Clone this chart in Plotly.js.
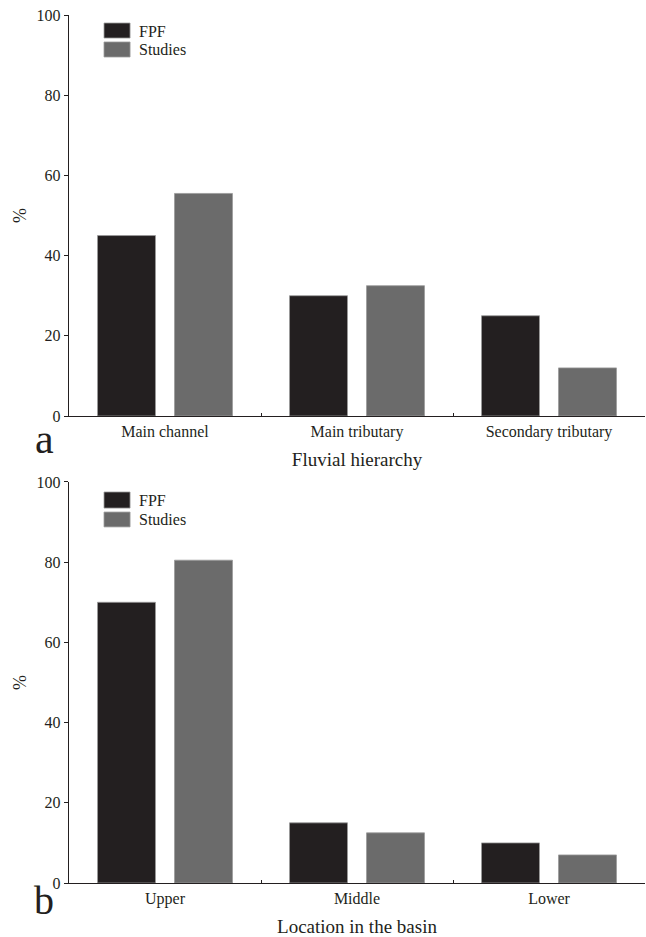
<!DOCTYPE html>
<html>
<head>
<meta charset="utf-8">
<script src="https://cdn.plot.ly/plotly-3.0.1.min.js"></script>
<style>html,body{margin:0;padding:0;background:#fff;}#chart{width:646px;height:937px;}</style>
</head>
<body>
<div id="chart"></div>
<script>
// ---- data ----
var seriesNames = ['FPF', 'Studies'];
var hierarchyCategories = ['Main channel', 'Main tributary', 'Secondary tributary'];
var hierarchyFPF = [45, 30, 25];
var hierarchyStudies = [55.5, 32.5, 12];
var locationCategories = ['Upper', 'Middle', 'Lower'];
var locationFPF = [70, 15, 10];
var locationStudies = [80.5, 12.5, 7];
var yTickValues = [0, 20, 40, 60, 80, 100];
var panelTitles = ['Fluvial hierarchy', 'Location in the basin'];
var panelLetters = ['a', 'b'];
var yTitle = '%';

// ---- styles ----
var colors = ['#231f20', '#6b6b6b'];
var ink = '#231f20';
var fontFam = '"Liberation Serif", "DejaVu Serif", serif';

function barTrace(cats, vals, i, xa, ya) {
  return {
    type: 'bar', x: cats, y: vals, name: seriesNames[i],
    xaxis: xa, yaxis: ya, showlegend: false,
    marker: {color: colors[i], line: {color: '#9a9a9a', width: 0.8}},
    hoverinfo: 'x+y+name'
  };
}

var data = [
  barTrace(hierarchyCategories, hierarchyFPF, 0, 'x', 'y'),
  barTrace(hierarchyCategories, hierarchyStudies, 1, 'x', 'y'),
  barTrace(locationCategories, locationFPF, 0, 'x2', 'y2'),
  barTrace(locationCategories, locationStudies, 1, 'x2', 'y2')
];

function xAxis(anchor, title) {
  return {
    anchor: anchor, domain: [0, 1], type: 'category', range: [-0.5, 2.5],
    showline: true, linecolor: ink, linewidth: 1.3, mirror: false,
    ticks: 'inside', tickson: 'boundaries', ticklen: 3, tickcolor: ink, tickwidth: 1,
    showgrid: false, zeroline: false, fixedrange: true,
    tickfont: {family: fontFam, size: 16, color: ink},
    title: {text: title, font: {family: fontFam, size: 19, color: ink}, standoff: 13}
  };
}
function yAxis(anchor, domain) {
  return {
    anchor: anchor, domain: domain, range: [0, 100],
    tickmode: 'array', tickvals: yTickValues, ticktext: yTickValues.map(String),
    showline: true, linecolor: ink, linewidth: 1.3,
    ticks: 'outside', ticklen: 4, tickcolor: ink, tickwidth: 1,
    showgrid: false, zeroline: false, fixedrange: true,
    tickfont: {family: fontFam, size: 16, color: ink},
    title: {text: yTitle, font: {family: fontFam, size: 18, color: ink}, standoff: 5}
  };
}

// legend swatches/labels per panel (domain coordinates)
var legendPos = [
  {ya: 'y', sw: [[0.980, 0.9426], [0.9327, 0.8953]], ty: [0.960, 0.913]},
  {ya: 'y2', sw: [[0.975, 0.935], [0.925, 0.888]], ty: [0.955, 0.906]}
];
var shapes = [], annotations = [];
legendPos.forEach(function (lp, p) {
  var xa = p === 0 ? 'x' : 'x2';
  for (var i = 0; i < seriesNames.length; i++) {
    shapes.push({type: 'rect', xref: xa + ' domain', yref: lp.ya + ' domain',
      x0: 0.0608, x1: 0.106, y0: lp.sw[i][1], y1: lp.sw[i][0],
      fillcolor: colors[i], line: {color: '#9a9a9a', width: 0.8}});
    annotations.push({xref: xa + ' domain', yref: lp.ya + ' domain',
      x: 0.118, y: lp.ty[i], xanchor: 'left', yanchor: 'middle', showarrow: false,
      text: seriesNames[i], font: {family: fontFam, size: 16, color: ink}});
  }
});
annotations.push({xref: 'paper', yref: 'paper', x: -0.0417, y: 0.512, xanchor: 'center', yanchor: 'middle',
  showarrow: false, text: panelLetters[0], font: {family: fontFam, size: 42, color: ink}});
annotations.push({xref: 'paper', yref: 'paper', x: -0.0434, y: -0.0207, xanchor: 'center', yanchor: 'middle',
  showarrow: false, text: panelLetters[1], font: {family: fontFam, size: 40, color: ink}});

var layout = {
  width: 646, height: 937,
  margin: {l: 69, r: 1, t: 15, b: 54, pad: 0},
  paper_bgcolor: '#ffffff', plot_bgcolor: '#ffffff',
  barmode: 'group', bargap: 0.198, bargroupgap: 0.247,
  showlegend: false,
  font: {family: fontFam, color: ink},
  xaxis: xAxis('y', panelTitles[0]),
  yaxis: yAxis('x', [0.538, 1]),
  xaxis2: xAxis('y2', panelTitles[1]),
  yaxis2: yAxis('x2', [0, 0.462]),
  shapes: shapes,
  annotations: annotations
};

Plotly.newPlot('chart', data, layout, {displayModeBar: false, staticPlot: true});
</script>
</body>
</html>
